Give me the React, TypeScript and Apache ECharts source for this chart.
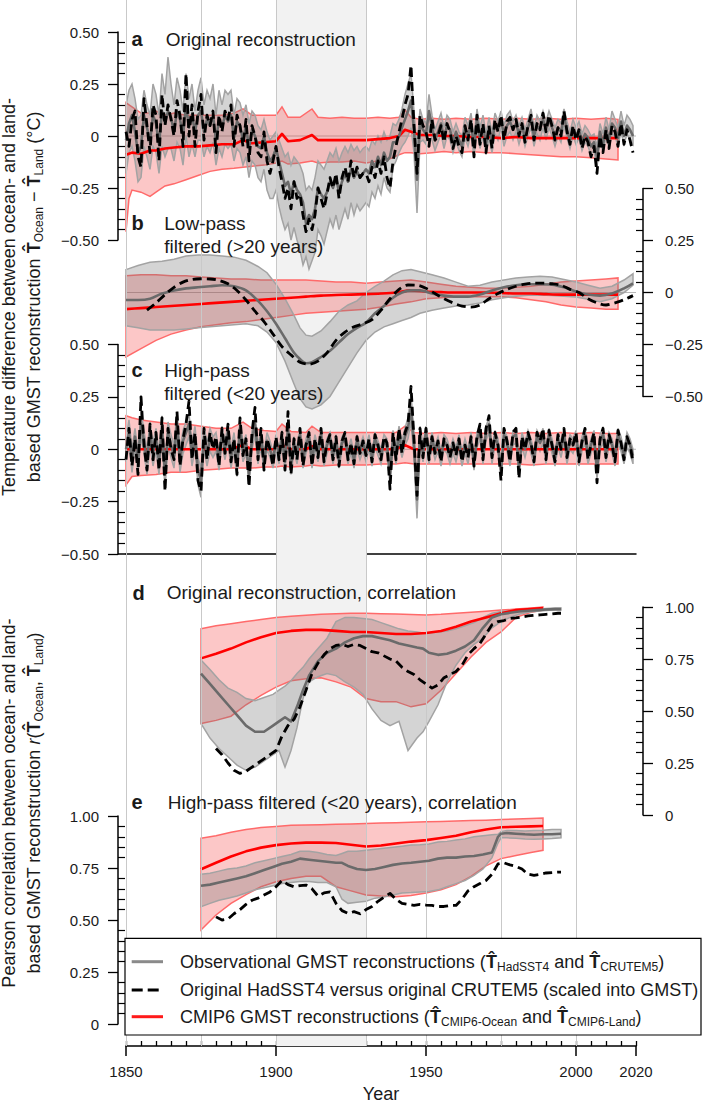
import React, { useEffect, useRef } from "react";
import * as echarts from "echarts";

const FONT = "'Liberation Sans', Arial, Helvetica, sans-serif";
const TXT = "#1a1a1a";

// ---------- axis / categories ----------
const YEARS: number[] = [];
for (let y = 1850; y <= 2019; y++) YEARS.push(y);
const GRID_YEARS = [1850, 1875, 1900, 1930, 1950, 1975, 2000];
const SHADE = [1900, 1930];
const X_MAJOR = [1850, 1900, 1950, 2000, 2020];

// ---------- panel a: original reconstruction ----------
const aBlack = [
  0.02, -0.05, 0.08, 0.12, -0.1, -0.15, 0.18, 0.05, -0.08, 0.15,
  0.1, -0.12, 0.2, 0.05, 0.15, 0.08, 0.0, 0.17, 0.1, -0.05,
  0.3, 0.0, 0.15, -0.05, 0.12, 0.2, -0.02, 0.1, 0.05, 0.12,
  -0.08, 0.1, 0.02, 0.12, 0.08, 0.15, -0.05, 0.1, 0.05, -0.05,
  0.08, -0.12, 0.05, 0.0, -0.08, -0.1, 0.02, -0.12, -0.18, -0.12,
  -0.05, -0.15, -0.22, -0.3, -0.25, -0.35, -0.22, -0.3, -0.28, -0.38,
  -0.46, -0.4, -0.45, -0.38, -0.25, -0.3, -0.35, -0.28, -0.2, -0.25,
  -0.18, -0.3, -0.2, -0.15, -0.22, -0.12, -0.2, -0.15, -0.2, -0.18,
  -0.18, -0.22, -0.15, -0.2, -0.12, -0.18, -0.1, -0.2, -0.25, -0.12,
  -0.05, 0.02, 0.08, 0.15, 0.2, 0.34, 0.05, -0.18, 0.1, 0.05,
  0.02, -0.05, 0.08, -0.02, 0.0, 0.05, -0.03, 0.06, 0.02, -0.06,
  0.0, -0.05, -0.08, 0.05, -0.02, 0.08, -0.1, 0.1, -0.04, 0.06,
  -0.08, 0.05, -0.06, 0.08, 0.02, 0.1, -0.02, 0.07, 0.09, 0.03,
  0.08, 0.0, 0.06, -0.03, 0.05, 0.1, -0.02, 0.06, 0.03, 0.11,
  0.02, 0.1, 0.05, -0.02, 0.04, 0.0, 0.12, 0.02, -0.04, 0.05,
  -0.02, 0.03, -0.06, 0.0, -0.03, -0.1, -0.05, -0.18, 0.0, -0.08,
  0.03, -0.06, 0.05, 0.02, -0.05, 0.06, -0.04, 0.03, -0.02, -0.08,
];
const aGray = [
  -0.02, 0.06, 0.1, 0.02, -0.08, -0.05, 0.1, 0.04, -0.03, 0.1,
  0.06, -0.04, 0.12, 0.06, 0.12, 0.09, 0.02, 0.12, 0.08, 0.0,
  0.15, 0.04, 0.1, 0.02, 0.1, 0.12, 0.02, 0.08, 0.05, 0.1,
  -0.02, 0.08, 0.04, 0.1, 0.07, 0.1, -0.01, 0.07, 0.05, -0.02,
  0.05, -0.06, 0.03, 0.0, -0.05, -0.06, 0.0, -0.08, -0.12, -0.1,
  -0.06, -0.12, -0.18, -0.24, -0.22, -0.28, -0.22, -0.26, -0.28, -0.32,
  -0.42, -0.38, -0.4, -0.35, -0.25, -0.28, -0.3, -0.27, -0.22, -0.25,
  -0.2, -0.27, -0.22, -0.18, -0.22, -0.16, -0.2, -0.17, -0.2, -0.18,
  -0.16, -0.18, -0.12, -0.15, -0.1, -0.14, -0.08, -0.12, -0.1, -0.03,
  -0.03, 0.0, 0.04, 0.08, 0.12, 0.17, 0.03, -0.21, 0.06, 0.03,
  0.01, 0.12, 0.04, -0.02, 0.02, 0.06, -0.01, 0.05, 0.03, -0.03,
  0.02, -0.02, -0.05, 0.04, 0.0, 0.06, -0.05, 0.08, -0.01, 0.05,
  -0.04, 0.04, -0.03, 0.06, 0.03, 0.08, 0.0, 0.05, 0.07, 0.03,
  0.06, 0.01, 0.05, -0.01, 0.04, 0.08, 0.0, 0.05, 0.03, 0.08,
  0.03, 0.08, 0.04, 0.0, 0.04, 0.02, 0.09, 0.03, -0.02, 0.04,
  0.0, 0.03, -0.03, 0.01, -0.01, -0.05, -0.03, -0.1, 0.02, -0.04,
  0.04, -0.02, 0.06, 0.04, -0.01, 0.07, 0.0, 0.05, 0.03, 0.0,
];
const aGrayHi = [
  0.15, 0.22, 0.25, 0.18, 0.08, 0.1, 0.22, 0.15, 0.1, 0.25,
  0.2, 0.1, 0.3, 0.2, 0.38, 0.25, 0.15, 0.28, 0.22, 0.12,
  0.3, 0.18, 0.25, 0.12, 0.22, 0.28, 0.15, 0.22, 0.18, 0.25,
  0.1, 0.22, 0.15, 0.22, 0.2, 0.22, 0.1, 0.18, 0.16, 0.1,
  0.15, 0.06, 0.12, 0.1, 0.05, 0.03, 0.08, 0.02, -0.02, 0.0,
  0.02, -0.02, -0.06, -0.1, -0.08, -0.14, -0.1, -0.12, -0.14, -0.18,
  -0.26, -0.24, -0.26, -0.2, -0.12, -0.14, -0.16, -0.12, -0.08, -0.1,
  -0.06, -0.12, -0.08, -0.05, -0.08, -0.04, -0.07, -0.05, -0.08, -0.06,
  -0.05, -0.07, -0.02, -0.04, 0.0, -0.03, 0.02, -0.02, 0.0, 0.06,
  0.05, 0.08, 0.13, 0.2, 0.25, 0.3, 0.12, -0.06, 0.13, 0.08,
  0.06, 0.2, 0.1, 0.03, 0.07, 0.11, 0.04, 0.1, 0.08, 0.02,
  0.06, 0.02, 0.0, 0.09, 0.05, 0.11, 0.0, 0.13, 0.04, 0.1,
  0.01, 0.09, 0.02, 0.11, 0.07, 0.12, 0.05, 0.1, 0.12, 0.07,
  0.1, 0.05, 0.09, 0.03, 0.08, 0.13, 0.04, 0.1, 0.07, 0.12,
  0.07, 0.12, 0.08, 0.04, 0.08, 0.06, 0.13, 0.07, 0.02, 0.08,
  0.04, 0.07, 0.01, 0.05, 0.03, 0.0, 0.01, -0.05, 0.06, 0.01,
  0.09, 0.03, 0.12, 0.08, 0.04, 0.12, 0.05, 0.1, 0.08, 0.05,
];
const aGrayLo = [
  -0.18, -0.08, -0.05, -0.12, -0.22, -0.2, -0.05, -0.1, -0.16, -0.05,
  -0.08, -0.18, -0.05, -0.1, -0.06, -0.06, -0.12, -0.03, -0.06, -0.14,
  0.0, -0.1, -0.04, -0.1, -0.02, -0.02, -0.1, -0.05, -0.08, -0.03,
  -0.14, -0.06, -0.1, -0.04, -0.06, -0.04, -0.12, -0.06, -0.08, -0.14,
  -0.1, -0.2, -0.12, -0.14, -0.2, -0.22, -0.16, -0.26, -0.3, -0.3,
  -0.26, -0.34, -0.4, -0.45, -0.42, -0.5, -0.44, -0.5, -0.55, -0.62,
  -0.58, -0.64, -0.6, -0.56, -0.45, -0.48, -0.52, -0.46, -0.4, -0.44,
  -0.38, -0.45, -0.4, -0.35, -0.4, -0.32, -0.38, -0.33, -0.36, -0.34,
  -0.32, -0.34, -0.27, -0.3, -0.24, -0.28, -0.2, -0.25, -0.27, -0.15,
  -0.12, -0.08, -0.05, -0.03, 0.0, 0.04, -0.08, -0.37, -0.03, -0.02,
  -0.04, 0.05, -0.02, -0.07, -0.03, 0.01, -0.06, 0.0, -0.02, -0.08,
  -0.03, -0.07, -0.1, -0.01, -0.05, 0.01, -0.1, 0.03, -0.06, 0.0,
  -0.09, -0.01, -0.08, 0.01, -0.02, 0.04, -0.05, 0.0, 0.02, -0.02,
  0.02, -0.04, 0.01, -0.05, 0.0, 0.04, -0.05, 0.01, -0.02, 0.04,
  -0.02, 0.04, 0.0, -0.05, 0.0, -0.03, 0.05, -0.01, -0.06, 0.0,
  -0.04, -0.01, -0.07, -0.03, -0.05, -0.09, -0.07, -0.15, -0.02, -0.08,
  0.0, -0.06, 0.01, 0.0, -0.05, 0.02, -0.04, 0.01, -0.02, -0.04,
];
const aRedYears = [1850, 1851, 1852, 1855, 1858, 1860, 1863, 1866, 1870, 1874, 1878, 1882, 1886, 1889, 1892, 1896, 1900, 1902, 1904, 1908, 1912, 1914, 1918, 1922, 1926, 1930, 1934, 1938, 1941, 1943, 1945, 1948, 1952, 1956, 1960, 1965, 1970, 1975, 1980, 1985, 1990, 1995, 2000, 2005, 2010, 2014];
const aRedHi = [0.16, 0.15, 0.14, 0.11, 0.11, 0.12, 0.1, 0.11, 0.1, 0.1, 0.1, 0.1, 0.11, 0.13, 0.1, 0.1, 0.1, 0.14, 0.09, 0.09, 0.13, 0.09, 0.085, 0.09, 0.085, 0.085, 0.09, 0.085, 0.09, 0.125, 0.09, 0.08, 0.085, 0.08, 0.085, 0.08, 0.085, 0.08, 0.085, 0.08, 0.085, 0.08, 0.085, 0.08, 0.085, 0.08];
const aRedLo = [-0.46, -0.3, -0.26, -0.27, -0.29, -0.27, -0.24, -0.23, -0.21, -0.19, -0.17, -0.16, -0.155, -0.15, -0.145, -0.14, -0.13, -0.12, -0.135, -0.13, -0.12, -0.13, -0.125, -0.125, -0.12, -0.13, -0.12, -0.11, -0.09, -0.08, -0.08, -0.085, -0.08, -0.075, -0.08, -0.075, -0.08, -0.08, -0.085, -0.09, -0.095, -0.1, -0.1, -0.105, -0.11, -0.115];
const aRedMid = [-0.09, -0.085, -0.08, -0.085, -0.07, -0.07, -0.06, -0.055, -0.05, -0.05, -0.045, -0.04, -0.04, -0.02, -0.035, -0.03, -0.025, 0.01, -0.025, -0.02, 0.005, -0.02, -0.02, -0.02, -0.02, -0.02, -0.015, -0.01, 0.0, 0.03, 0.02, 0.005, 0.005, 0.0, 0.0, -0.005, -0.005, -0.01, -0.005, -0.01, -0.01, -0.01, -0.01, -0.01, -0.01, -0.01];

// ---------- panel b: low-pass filtered ----------
const bRedYears = [1850, 1855, 1860, 1865, 1870, 1875, 1880, 1885, 1890, 1895, 1900, 1905, 1910, 1915, 1920, 1925, 1930, 1935, 1940, 1945, 1950, 1955, 1960, 1965, 1970, 1975, 1980, 1985, 1990, 1995, 2000, 2005, 2010, 2014];
const bRedHi = [0.08, 0.085, 0.085, 0.08, 0.08, 0.075, 0.07, 0.065, 0.065, 0.06, 0.06, 0.06, 0.06, 0.055, 0.05, 0.05, 0.045, 0.05, 0.055, 0.06, 0.05, 0.04, 0.03, 0.025, 0.02, 0.02, 0.025, 0.03, 0.04, 0.05, 0.055, 0.06, 0.065, 0.07];
const bRedLo = [-0.31, -0.27, -0.23, -0.2, -0.18, -0.165, -0.155, -0.145, -0.14, -0.13, -0.12, -0.11, -0.1, -0.095, -0.09, -0.085, -0.08, -0.07, -0.055, -0.045, -0.03, -0.025, -0.02, -0.02, -0.02, -0.02, -0.025, -0.035, -0.045, -0.06, -0.07, -0.075, -0.08, -0.08];
const bRedMid = [-0.08, -0.075, -0.07, -0.065, -0.06, -0.055, -0.05, -0.045, -0.04, -0.035, -0.03, -0.025, -0.02, -0.015, -0.012, -0.01, -0.008, -0.005, 0.0, 0.01, 0.005, 0.002, 0.0, 0.0, 0.0, -0.002, -0.005, -0.005, -0.008, -0.01, -0.01, -0.01, -0.01, -0.01];
const bGrayYears = [1850, 1854, 1858, 1862, 1866, 1870, 1874, 1878, 1882, 1886, 1890, 1894, 1897, 1900, 1903, 1906, 1908, 1910, 1912, 1915, 1918, 1921, 1924, 1927, 1930, 1933, 1936, 1939, 1942, 1945, 1948, 1952, 1956, 1960, 1964, 1968, 1972, 1976, 1980, 1984, 1988, 1992, 1996, 2000, 2004, 2008, 2012, 2016, 2019];
const bGrayHi = [0.11, 0.13, 0.145, 0.15, 0.16, 0.175, 0.18, 0.18, 0.175, 0.17, 0.155, 0.125, 0.095, 0.04, -0.03, -0.11, -0.17, -0.205, -0.21, -0.185, -0.14, -0.09, -0.06, -0.04, 0.0, 0.03, 0.055, 0.085, 0.105, 0.11, 0.1, 0.085, 0.07, 0.05, 0.03, 0.035, 0.05, 0.06, 0.07, 0.075, 0.078, 0.075, 0.062, 0.05, 0.035, 0.02, 0.03, 0.06, 0.09];
const bGrayLo = [-0.16, -0.17, -0.18, -0.18, -0.18, -0.175, -0.17, -0.165, -0.16, -0.155, -0.15, -0.16, -0.19, -0.24, -0.33, -0.44, -0.51, -0.55, -0.56, -0.54, -0.5, -0.43, -0.36, -0.29, -0.23, -0.19, -0.165, -0.15, -0.135, -0.12, -0.1, -0.085, -0.075, -0.065, -0.06, -0.05, -0.035, -0.025, -0.018, -0.013, -0.012, -0.014, -0.018, -0.022, -0.032, -0.044, -0.03, 0.0, 0.035];
const bGrayMid = [-0.036, -0.036, -0.03, -0.005, 0.01, 0.02, 0.025, 0.03, 0.035, 0.03, 0.01, -0.04, -0.09, -0.15, -0.22, -0.29, -0.32, -0.34, -0.335, -0.31, -0.28, -0.24, -0.2, -0.17, -0.145, -0.1, -0.065, -0.025, 0.0, 0.01, 0.01, -0.005, -0.015, -0.02, -0.02, -0.01, 0.01, 0.025, 0.035, 0.04, 0.04, 0.038, 0.025, 0.005, -0.01, -0.015, -0.005, 0.02, 0.044];
const bBlackYears = [1857, 1860, 1863, 1866, 1869, 1872, 1875, 1878, 1881, 1884, 1887, 1890, 1893, 1896, 1899, 1902, 1905, 1908, 1911, 1914, 1917, 1920, 1923, 1926, 1929, 1932, 1935, 1938, 1941, 1944, 1947, 1950, 1953, 1956, 1959, 1962, 1965, 1968, 1971, 1974, 1977, 1980, 1983, 1986, 1989, 1992, 1995, 1998, 2001, 2004, 2007, 2010, 2013, 2016, 2019];
const bBlack = [-0.085, -0.05, -0.01, 0.025, 0.05, 0.063, 0.066, 0.065, 0.058, 0.042, 0.01, -0.036, -0.09, -0.14, -0.2, -0.26, -0.3, -0.335, -0.345, -0.33, -0.29, -0.23, -0.19, -0.165, -0.15, -0.13, -0.085, -0.03, 0.015, 0.036, 0.035, 0.02, -0.005, -0.03, -0.05, -0.065, -0.07, -0.06, -0.03, -0.005, 0.015, 0.03, 0.04, 0.045, 0.045, 0.042, 0.035, 0.015, 0.0, -0.03, -0.05, -0.06, -0.05, -0.035, -0.015];

// ---------- panel c: high-pass filtered ----------
const cBlack = [
  -0.05, 0.1, -0.08, 0.05, -0.12, 0.25, 0.02, -0.1, 0.12, -0.05,
  0.08, -0.1, 0.15, -0.2, 0.1, 0.0, -0.05, 0.18, -0.08, 0.05,
  0.12, 0.23, -0.05, 0.08, -0.15, -0.2, 0.1, -0.05, 0.08, 0.0,
  0.06, -0.08, 0.1, -0.02, 0.12, -0.06, 0.05, -0.12, 0.15, -0.03,
  0.05, -0.18, 0.08, 0.2, -0.05, 0.1, -0.1, 0.05, 0.0, -0.08,
  0.06, -0.05, 0.08, -0.1, 0.18, -0.12, 0.05, -0.05, 0.1, -0.08,
  0.02, 0.08, -0.08, 0.05, -0.04, 0.1, -0.06, 0.03, 0.07, -0.05,
  0.06, -0.08, 0.04, 0.08, -0.05, 0.03, -0.07, 0.06, -0.02, 0.04,
  -0.03, 0.05, -0.06, 0.07, 0.02, -0.05, 0.06, 0.03, -0.19, 0.08,
  -0.05, 0.1, -0.02, 0.08, 0.12, 0.3, 0.05, -0.22, 0.1, -0.04,
  0.1, -0.05, 0.06, -0.02, 0.04, -0.06, 0.05, 0.02, -0.04, 0.03,
  -0.03, 0.05, -0.06, 0.02, -0.04, 0.06, -0.08, 0.06, 0.12, -0.05,
  0.1, 0.16, -0.04, 0.08, 0.02, -0.15, 0.1, 0.04, -0.06, 0.08,
  0.1, -0.14, 0.06, 0.0, 0.08, 0.03, -0.06, 0.08, 0.04, 0.1,
  -0.05, 0.09, 0.02, -0.06, 0.07, 0.0, 0.1, -0.04, 0.05, 0.02,
  0.08, -0.06, 0.04, 0.1, -0.05, 0.02, 0.08, -0.16, 0.05, 0.1,
  -0.04, 0.07, 0.02, -0.06, 0.09, 0.03, -0.05, 0.06, 0.02, -0.06,
];
const cGray = [
  0.0, 0.08, -0.05, 0.06, -0.06, 0.12, 0.04, -0.06, 0.08, -0.02,
  0.05, -0.06, 0.1, -0.12, 0.08, 0.02, -0.03, 0.12, -0.05, 0.04,
  0.08, 0.12, -0.02, 0.06, -0.1, -0.15, 0.06, -0.02, 0.05, 0.02,
  0.04, -0.05, 0.07, 0.0, 0.08, -0.04, 0.04, -0.08, 0.1, -0.01,
  0.03, -0.12, 0.05, 0.12, -0.02, 0.06, -0.06, 0.04, 0.0, -0.05,
  0.04, -0.03, 0.06, -0.06, 0.1, -0.08, 0.03, -0.03, 0.07, -0.05,
  0.02, 0.06, -0.05, 0.04, -0.02, 0.07, -0.04, 0.02, 0.05, -0.03,
  0.04, -0.05, 0.03, 0.05, -0.03, 0.02, -0.05, 0.04, -0.01, 0.03,
  -0.02, 0.04, -0.04, 0.05, 0.01, -0.03, 0.04, 0.02, -0.12, 0.05,
  -0.03, 0.07, 0.0, 0.06, 0.1, 0.2, 0.02, -0.24, 0.07, -0.02,
  0.08, -0.03, 0.05, -0.01, 0.03, -0.04, 0.04, 0.02, -0.03, 0.02,
  -0.02, 0.04, -0.04, 0.02, -0.03, 0.05, -0.06, 0.05, 0.09, -0.03,
  0.08, 0.12, -0.03, 0.06, 0.02, -0.1, 0.07, 0.03, -0.04, 0.06,
  0.07, -0.09, 0.05, 0.0, 0.06, 0.02, -0.04, 0.06, 0.03, 0.07,
  -0.03, 0.07, 0.02, -0.04, 0.05, 0.0, 0.07, -0.03, 0.04, 0.02,
  0.06, -0.04, 0.03, 0.07, -0.03, 0.02, 0.06, -0.1, 0.04, 0.07,
  -0.02, 0.05, 0.02, -0.04, 0.07, 0.03, -0.03, 0.05, 0.02, -0.03,
];
const cGrayHi = [
  0.05, 0.14, 0.0, 0.1, -0.01, 0.18, 0.09, -0.01, 0.13, 0.03,
  0.1, -0.01, 0.16, -0.06, 0.13, 0.07, 0.02, 0.18, 0.0, 0.09,
  0.13, 0.17, 0.03, 0.11, -0.04, -0.09, 0.11, 0.03, 0.1, 0.06,
  0.08, -0.01, 0.11, 0.04, 0.12, 0.0, 0.08, -0.04, 0.14, 0.03,
  0.07, -0.08, 0.09, 0.16, 0.02, 0.1, -0.02, 0.08, 0.04, -0.01,
  0.07, 0.0, 0.09, -0.03, 0.13, -0.05, 0.06, 0.0, 0.1, -0.02,
  0.05, 0.09, -0.02, 0.07, 0.01, 0.1, -0.01, 0.05, 0.08, 0.0,
  0.07, -0.02, 0.06, 0.08, 0.0, 0.05, -0.02, 0.07, 0.02, 0.06,
  0.01, 0.07, -0.01, 0.08, 0.04, 0.0, 0.07, 0.05, -0.08, 0.09,
  0.01, 0.11, 0.04, 0.1, 0.15, 0.26, 0.07, -0.16, 0.11, 0.02,
  0.11, 0.0, 0.08, 0.02, 0.06, -0.01, 0.07, 0.05, 0.0, 0.05,
  0.01, 0.07, -0.01, 0.05, 0.0, 0.08, -0.03, 0.08, 0.12, 0.0,
  0.11, 0.15, 0.0, 0.09, 0.05, -0.07, 0.1, 0.06, -0.01, 0.09,
  0.1, -0.06, 0.08, 0.03, 0.09, 0.05, -0.01, 0.09, 0.06, 0.1,
  0.0, 0.1, 0.05, -0.01, 0.08, 0.03, 0.1, 0.0, 0.07, 0.05,
  0.09, -0.01, 0.06, 0.1, 0.0, 0.05, 0.09, -0.07, 0.07, 0.1,
  0.01, 0.08, 0.05, -0.01, 0.1, 0.06, 0.0, 0.08, 0.05, 0.0,
];
const cGrayLo = [
  -0.06, 0.02, -0.11, 0.0, -0.12, 0.06, -0.02, -0.12, 0.02, -0.08,
  -0.01, -0.12, 0.04, -0.19, 0.02, -0.04, -0.09, 0.06, -0.11, -0.02,
  0.02, 0.06, -0.08, 0.0, -0.17, -0.23, 0.0, -0.08, -0.01, -0.04,
  -0.01, -0.1, 0.02, -0.05, 0.03, -0.09, -0.01, -0.13, 0.05, -0.06,
  -0.02, -0.17, 0.0, 0.07, -0.07, 0.01, -0.1, 0.0, -0.04, -0.09,
  0.01, -0.07, 0.02, -0.1, 0.06, -0.12, -0.01, -0.07, 0.03, -0.09,
  -0.02, 0.02, -0.09, 0.0, -0.06, 0.03, -0.08, -0.02, 0.01, -0.07,
  0.0, -0.09, -0.01, 0.01, -0.07, -0.02, -0.09, 0.0, -0.05, -0.01,
  -0.06, 0.0, -0.08, 0.01, -0.03, -0.07, 0.0, -0.02, -0.17, 0.01,
  -0.07, 0.03, -0.04, 0.02, 0.05, 0.13, -0.04, -0.33, 0.02, -0.06,
  0.04, -0.07, 0.01, -0.05, -0.01, -0.08, 0.0, -0.02, -0.07, -0.02,
  -0.06, 0.0, -0.08, -0.02, -0.07, 0.01, -0.1, 0.01, 0.05, -0.07,
  0.04, 0.08, -0.07, 0.02, -0.02, -0.14, 0.03, -0.01, -0.08, 0.02,
  0.03, -0.13, 0.01, -0.04, 0.02, -0.02, -0.08, 0.02, -0.01, 0.03,
  -0.07, 0.03, -0.02, -0.08, 0.01, -0.04, 0.03, -0.07, 0.0, -0.02,
  0.02, -0.08, -0.01, 0.03, -0.07, -0.02, 0.02, -0.14, 0.0, 0.03,
  -0.06, 0.01, -0.02, -0.08, 0.03, -0.01, -0.07, 0.01, -0.02, -0.07,
];
const cRedYears = [1850, 1852, 1855, 1860, 1865, 1870, 1875, 1880, 1885, 1889, 1892, 1896, 1900, 1902, 1905, 1910, 1912, 1915, 1920, 1925, 1930, 1935, 1940, 1943, 1946, 1950, 1955, 1960, 1965, 1970, 1975, 1980, 1985, 1990, 1995, 2000, 2005, 2010, 2014];
const cRedHi = [0.16, 0.15, 0.14, 0.13, 0.12, 0.12, 0.11, 0.1, 0.1, 0.13, 0.1, 0.09, 0.085, 0.12, 0.085, 0.08, 0.11, 0.08, 0.08, 0.08, 0.08, 0.08, 0.08, 0.11, 0.08, 0.075, 0.08, 0.075, 0.08, 0.075, 0.08, 0.075, 0.08, 0.075, 0.08, 0.075, 0.08, 0.075, 0.075];
const cRedLo = [-0.17, -0.13, -0.125, -0.12, -0.11, -0.11, -0.1, -0.095, -0.09, -0.09, -0.09, -0.085, -0.085, -0.08, -0.085, -0.08, -0.075, -0.08, -0.075, -0.075, -0.075, -0.07, -0.07, -0.065, -0.07, -0.07, -0.07, -0.07, -0.07, -0.07, -0.07, -0.07, -0.075, -0.07, -0.07, -0.07, -0.07, -0.07, -0.07];
const cRedMid = [0, 0, 0, 0, 0, 0, 0, 0, 0, 0.02, 0, 0, 0, 0.02, 0, 0, 0.015, 0, 0, 0, 0, 0, 0, 0.02, 0, 0, 0, 0, 0, 0, 0, 0, 0, 0, 0, 0, 0, 0, 0];

// ---------- panel d: original reconstruction, correlation ----------
const deRedYears = [1875, 1880, 1885, 1890, 1895, 1900, 1905, 1910, 1915, 1920, 1925, 1930, 1935, 1940, 1945, 1950, 1955, 1960, 1965, 1970, 1975, 1980, 1985, 1989];
const dRedHi = [0.895, 0.91, 0.92, 0.93, 0.94, 0.95, 0.955, 0.96, 0.965, 0.967, 0.97, 0.97, 0.968, 0.966, 0.964, 0.962, 0.965, 0.97, 0.975, 0.98, 0.985, 0.99, 0.995, 1.0];
const dRedLo = [0.44, 0.455, 0.475, 0.53, 0.575, 0.615, 0.645, 0.655, 0.66, 0.64, 0.615, 0.56, 0.545, 0.545, 0.52, 0.535, 0.6, 0.68, 0.76, 0.83, 0.88, 0.95, 0.975, 0.985];
const dRedMid = [0.753, 0.775, 0.8, 0.83, 0.855, 0.875, 0.885, 0.89, 0.89, 0.885, 0.88, 0.88, 0.875, 0.87, 0.87, 0.875, 0.885, 0.905, 0.93, 0.95, 0.97, 0.985, 0.99, 0.995];
const dGrayYears = [1875, 1878, 1881, 1884, 1887, 1890, 1893, 1896, 1899, 1901, 1903, 1905, 1907, 1909, 1911, 1914, 1917, 1920, 1923, 1926, 1929, 1932, 1935, 1938, 1941, 1944, 1947, 1949, 1951, 1954, 1957, 1960, 1963, 1966, 1969, 1972, 1975, 1978, 1981, 1984, 1987, 1990, 1993, 1995];
const dGrayHi = [0.745, 0.7, 0.65, 0.61, 0.59, 0.56, 0.55, 0.565, 0.58, 0.6, 0.62, 0.645, 0.68, 0.71, 0.75, 0.8, 0.85, 0.93, 0.95, 0.95, 0.945, 0.94, 0.925, 0.91, 0.895, 0.885, 0.88, 0.875, 0.875, 0.88, 0.885, 0.895, 0.91, 0.925, 0.95, 0.97, 0.978, 0.982, 0.985, 0.988, 0.99, 0.993, 0.995, 0.995];
const dGrayMid = [0.68, 0.63, 0.58, 0.53, 0.48, 0.43, 0.4, 0.4, 0.43, 0.45, 0.47, 0.45, 0.52, 0.6, 0.67, 0.74, 0.78, 0.8, 0.83, 0.85, 0.86, 0.86, 0.85, 0.84, 0.825, 0.815, 0.805, 0.8, 0.78, 0.77, 0.775, 0.79, 0.81, 0.84, 0.9, 0.95, 0.965, 0.972, 0.978, 0.982, 0.985, 0.988, 0.99, 0.99];
const dGrayLo = [0.44, 0.37, 0.32, 0.28, 0.24, 0.215, 0.23, 0.26, 0.29, 0.31, 0.23, 0.31, 0.42, 0.56, 0.64, 0.665, 0.68, 0.67, 0.64, 0.615, 0.58, 0.51, 0.455, 0.43, 0.45, 0.31, 0.37, 0.4, 0.45, 0.53, 0.64, 0.72, 0.78, 0.82, 0.85, 0.9, 0.93, 0.95, 0.965, 0.975, 0.98, 0.983, 0.985, 0.985];
const deBlackYears = [1880, 1882, 1884, 1886, 1888, 1890, 1892, 1894, 1896, 1898, 1900, 1902, 1904, 1906, 1908, 1910, 1912, 1914, 1916, 1918, 1920, 1922, 1924, 1926, 1928, 1930, 1932, 1934, 1936, 1938, 1940, 1942, 1944, 1946, 1948, 1950, 1952, 1954, 1956, 1958, 1960, 1962, 1964, 1966, 1968, 1970, 1972, 1974, 1976, 1978, 1980, 1982, 1984, 1986, 1988, 1990, 1992, 1994, 1995];
const dBlack = [0.32, 0.29, 0.25, 0.215, 0.2, 0.21, 0.23, 0.25, 0.27, 0.29, 0.31, 0.38, 0.43, 0.46, 0.52, 0.6, 0.68, 0.73, 0.77, 0.8, 0.815, 0.82, 0.81, 0.82, 0.815, 0.8, 0.785, 0.78, 0.765, 0.75, 0.74, 0.71, 0.69, 0.675, 0.65, 0.63, 0.61, 0.625, 0.66, 0.675, 0.69, 0.72, 0.77, 0.8, 0.825, 0.87, 0.915, 0.93, 0.935, 0.945, 0.948, 0.952, 0.957, 0.96, 0.962, 0.965, 0.967, 0.97, 0.97];

// ---------- panel e: high-pass filtered, correlation ----------
const eRedHi = [0.893, 0.905, 0.922, 0.935, 0.945, 0.95, 0.955, 0.957, 0.958, 0.96, 0.962, 0.964, 0.966, 0.968, 0.97, 0.972, 0.974, 0.976, 0.978, 0.98, 0.983, 0.985, 0.988, 0.99];
const eRedMid = [0.744, 0.775, 0.805, 0.83, 0.848, 0.86, 0.868, 0.872, 0.872, 0.87, 0.862, 0.853, 0.858, 0.868, 0.877, 0.884, 0.894, 0.905, 0.922, 0.935, 0.946, 0.948, 0.95, 0.952];
const eRedLo = [0.452, 0.524, 0.58, 0.622, 0.66, 0.684, 0.7, 0.71, 0.71, 0.66, 0.64, 0.62, 0.615, 0.612, 0.618, 0.63, 0.645, 0.67, 0.71, 0.76, 0.795, 0.81, 0.825, 0.835];
const eGrayYears = [1875, 1878, 1881, 1884, 1887, 1890, 1893, 1896, 1899, 1902, 1905, 1908, 1911, 1914, 1917, 1920, 1922, 1924, 1927, 1930, 1933, 1936, 1939, 1942, 1945, 1948, 1951, 1954, 1957, 1960, 1963, 1966, 1969, 1972, 1974, 1975, 1977, 1980, 1983, 1986, 1989, 1992, 1995];
const eGrayHi = [0.72, 0.725, 0.735, 0.745, 0.75, 0.76, 0.775, 0.785, 0.795, 0.805, 0.815, 0.83, 0.83, 0.825, 0.815, 0.81, 0.82, 0.83, 0.83, 0.835, 0.84, 0.845, 0.85, 0.855, 0.86, 0.862, 0.865, 0.875, 0.878, 0.885, 0.89, 0.9, 0.905, 0.91, 0.912, 0.925, 0.93, 0.93, 0.928, 0.93, 0.932, 0.935, 0.935];
const eGrayMid = [0.665, 0.67, 0.68, 0.69, 0.7, 0.71, 0.725, 0.74, 0.755, 0.77, 0.78, 0.795, 0.79, 0.785, 0.78, 0.775, 0.775, 0.76, 0.745, 0.74, 0.745, 0.755, 0.765, 0.772, 0.775, 0.78, 0.785, 0.795, 0.8, 0.8, 0.805, 0.808, 0.815, 0.825, 0.9, 0.915, 0.918, 0.915, 0.912, 0.91, 0.912, 0.912, 0.915];
const eGrayLo = [0.564, 0.58, 0.595, 0.605, 0.615, 0.63, 0.645, 0.655, 0.665, 0.675, 0.68, 0.685, 0.685, 0.68, 0.68, 0.66, 0.6, 0.58, 0.585, 0.59, 0.605, 0.61, 0.62, 0.63, 0.632, 0.635, 0.637, 0.645, 0.66, 0.675, 0.69, 0.715, 0.745, 0.8, 0.87, 0.895, 0.895, 0.893, 0.89, 0.888, 0.89, 0.892, 0.895];
const eBlack = [0.515, 0.5, 0.505, 0.53, 0.55, 0.575, 0.595, 0.605, 0.62, 0.635, 0.66, 0.69, 0.67, 0.66, 0.665, 0.668, 0.65, 0.615, 0.63, 0.635, 0.58, 0.545, 0.532, 0.54, 0.53, 0.55, 0.565, 0.59, 0.61, 0.628, 0.6, 0.58, 0.575, 0.57, 0.575, 0.572, 0.57, 0.565, 0.565, 0.57, 0.57, 0.6, 0.64, 0.66, 0.675, 0.69, 0.72, 0.77, 0.775, 0.765, 0.758, 0.745, 0.72, 0.715, 0.72, 0.726, 0.728, 0.73, 0.73];

// ---------- styles ----------
const RED = "#ff0000";
const RED_EDGE = "#ff6a6a";
const RED_FILL = "rgba(240,0,0,0.22)";
const GRAY_MID = "#6a6a6a";
const GRAY_EDGE = "#a3a3a3";
const GRAY_FILL = "rgba(120,120,120,0.32)";
const DASH = [9, 5];

const pairs = (xs: number[], ys: number[]) => xs.map((x, i) => [x, ys[i]]);

function lineS(ax: number, xs: number[], ys: number[], color: string, width: number, z: number, dashed = false, smooth: any = false) {
  return {
    type: "line",
    xAxisIndex: ax,
    yAxisIndex: ax,
    data: pairs(xs, ys),
    symbol: "none",
    showSymbol: false,
    clip: false,
    silent: true,
    smooth,
    z,
    lineStyle: { color, width, type: dashed ? DASH : "solid", cap: "butt", join: "round" },
    emphasis: { disabled: true },
  };
}

function bandS(ax: number, xs: number[], lo: number[], hi: number[], fill: string, stroke: string, z: number) {
  return {
    type: "custom",
    xAxisIndex: ax,
    yAxisIndex: ax,
    data: xs.map((x, i) => [x, lo[i], hi[i]]),
    encode: { x: 0, y: [1, 2] },
    clip: false,
    silent: true,
    z,
    renderItem: (params: any, api: any) => {
      if (params.dataIndexInside !== 0) return null;
      const n = params.dataInsideLength;
      const top: number[][] = [];
      const bot: number[][] = [];
      for (let i = 0; i < n; i++) {
        const x = api.value(0, i);
        top.push(api.coord([x, api.value(2, i)]));
        bot.push(api.coord([x, api.value(1, i)]));
      }
      bot.reverse();
      return {
        type: "polygon",
        shape: { points: top.concat(bot) },
        style: { fill, stroke, lineWidth: 1.5 },
      };
    },
  };
}

const fmtTick = (v: number) => {
  if (Math.abs(v) < 1e-9) return "0";
  const s = Math.abs(v).toFixed(2);
  return v < 0 ? "\u2212" + s : s;
};

function yAx(gi: number, pos: "left" | "right", min: number, max: number) {
  return {
    type: "value",
    gridIndex: gi,
    position: pos,
    offset: pos === "left" ? 8 : 7,
    min,
    max,
    interval: 0.25,
    axisLine: { show: true, onZero: false, lineStyle: { color: "#000", width: 1.5 } },
    axisTick: { show: true, inside: false, length: 10, lineStyle: { color: "#000", width: 1.3 } },
    minorTick: { show: true, splitNumber: 5, length: -7, lineStyle: { color: "#000", width: 1.2 } },
    axisLabel: { show: true, fontSize: 15, fontFamily: FONT, color: TXT, margin: pos === "left" ? 19 : 22, formatter: fmtTick },
    splitLine: { show: false },
    minorSplitLine: { show: false },
  };
}

const hiddenX = (gi: number) => ({ type: "value", gridIndex: gi, min: 1850, max: 2020, show: false });

function panel(ax: number, p: any) {
  const out: any[] = [];
  if (p.zero) out.push(lineS(ax, [1850, 2020], [0, 0], "#b8b8b8", 1, 1));
  out.push(bandS(ax, p.rx, p.rlo, p.rhi, RED_FILL, RED_EDGE, 2));
  out.push(bandS(ax, p.gx, p.glo, p.ghi, GRAY_FILL, GRAY_EDGE, 3));
  out.push(lineS(ax, p.rx, p.rmid, RED, 2.6, 4, false, p.smooth));
  out.push(lineS(ax, p.gmx, p.gmid, GRAY_MID, 2.6, 5, false, p.smooth));
  out.push(lineS(ax, p.bx, p.black, "#000", 2.8, 6, true, p.smooth));
  return out;
}

const RICH = {
  b: { fontSize: 18, fontWeight: "bold", fontFamily: FONT, fill: TXT },
  s: { fontSize: 12, fontFamily: FONT, fill: TXT, padding: [10, 0, 0, 0] },
  i: { fontSize: 18, fontStyle: "italic", fontFamily: FONT, fill: TXT },
};

function txt(x: number, y: number, text: string, size: number, opts: any = {}) {
  return {
    type: "text",
    x,
    y,
    rotation: opts.rotation || 0,
    z: 120,
    silent: true,
    style: {
      text,
      fontSize: size,
      fontFamily: FONT,
      fontWeight: opts.bold ? "bold" : "normal",
      fill: TXT,
      align: opts.align || "left",
      verticalAlign: "middle",
      textAlign: opts.align || "left",
      textVerticalAlign: "middle",
      rich: RICH,
    },
  };
}

function buildOption() {
  const series: any[] = [];
  // background: shading 1900–1930 and vertical grid lines
  series.push({
    type: "line",
    xAxisIndex: 5,
    yAxisIndex: 5,
    data: [[1850, 0]],
    symbol: "none",
    silent: true,
    z: -10,
    lineStyle: { width: 0, opacity: 0 },
    markArea: { silent: true, itemStyle: { color: "#f2f2f2" }, data: [[{ xAxis: SHADE[0] }, { xAxis: SHADE[1] }]] },
    markLine: {
      silent: true,
      symbol: ["none", "none"],
      label: { show: false },
      lineStyle: { color: "#c9c9c9", width: 1, type: "solid" },
      data: GRID_YEARS.map((v) => ({ xAxis: v })),
    },
  });

  series.push(...panel(0, { zero: true, rx: aRedYears, rlo: aRedLo, rhi: aRedHi, rmid: aRedMid, gx: YEARS, glo: aGrayLo, ghi: aGrayHi, gmx: YEARS, gmid: aGray, bx: YEARS, black: aBlack }));
  series.push(...panel(1, { zero: true, smooth: 0.3, rx: bRedYears, rlo: bRedLo, rhi: bRedHi, rmid: bRedMid, gx: bGrayYears, glo: bGrayLo, ghi: bGrayHi, gmx: bGrayYears, gmid: bGrayMid, bx: bBlackYears, black: bBlack }));
  series.push(...panel(2, { zero: true, rx: cRedYears, rlo: cRedLo, rhi: cRedHi, rmid: cRedMid, gx: YEARS, glo: cGrayLo, ghi: cGrayHi, gmx: YEARS, gmid: cGray, bx: YEARS, black: cBlack }));
  series.push(...panel(3, { rx: deRedYears, rlo: dRedLo, rhi: dRedHi, rmid: dRedMid, gx: dGrayYears, glo: dGrayLo, ghi: dGrayHi, gmx: dGrayYears, gmid: dGrayMid, bx: deBlackYears, black: dBlack }));
  series.push(...panel(4, { rx: deRedYears, rlo: eRedLo, rhi: eRedHi, rmid: eRedMid, gx: eGrayYears, glo: eGrayLo, ghi: eGrayHi, gmx: eGrayYears, gmid: eGrayMid, bx: deBlackYears, black: eBlack }));

  const g = (top: number, height: number) => ({ left: 126, width: 510, top, height, containLabel: false, outerBoundsMode: "none" });

  const legendRows = [961.7, 990, 1016.7];

  const graphic: any[] = [
    // axis titles
    txt(8.5, 297, "Temperature difference between ocean- and land-", 18, { rotation: Math.PI / 2, align: "center" }),
    txt(33.5, 297, "based GMST reconstruction {b|T\u0302}{s|Ocean} \u2212 {b|T\u0302}{s|Land} (\u00B0C)", 18, { rotation: Math.PI / 2, align: "center" }),
    txt(8.5, 803, "Pearson correlation between ocean- and land-", 18, { rotation: Math.PI / 2, align: "center" }),
    txt(33.5, 803, "based GMST reconstruction {i|r}({b|T\u0302}{s|Ocean}, {b|T\u0302}{s|Land})", 18, { rotation: Math.PI / 2, align: "center" }),
    txt(381, 1093.5, "Year", 18, { align: "center" }),
    // panel labels
    txt(131.5, 39.3, "a", 20, { bold: true }),
    txt(165.7, 39.3, "Original reconstruction", 19),
    txt(131.5, 223.3, "b", 20, { bold: true }),
    txt(164.3, 223.3, "Low-pass", 19),
    txt(164.3, 246.7, "filtered (>20 years)", 19),
    txt(131.5, 370, "c", 20, { bold: true }),
    txt(164.3, 370, "High-pass", 19),
    txt(164.3, 393.3, "filtered (<20 years)", 19),
    txt(132.5, 592.7, "d", 20, { bold: true }),
    txt(166.7, 592.7, "Original reconstruction, correlation", 19),
    txt(131.5, 802.3, "e", 20, { bold: true }),
    txt(167.7, 802.3, "High-pass filtered (<20 years), correlation", 19),
    // x-axis line extension of panel c
    { type: "line", z: 50, silent: true, shape: { x1: 118, y1: 554, x2: 126, y2: 554 }, style: { stroke: "#000", lineWidth: 1.5 } },
    // legend
    { type: "rect", z: 100, silent: true, shape: { x: 125, y: 938.3, width: 576, height: 96.7 }, style: { fill: "#fff", stroke: "#000", lineWidth: 1.2 } },
    { type: "line", z: 110, silent: true, shape: { x1: 131.7, y1: legendRows[0], x2: 163, y2: legendRows[0] }, style: { stroke: "#8a8a8a", lineWidth: 3 } },
    { type: "line", z: 110, silent: true, shape: { x1: 131.7, y1: legendRows[1], x2: 163, y2: legendRows[1] }, style: { stroke: "#000", lineWidth: 3, lineDash: [11, 5] } },
    { type: "line", z: 110, silent: true, shape: { x1: 131.7, y1: legendRows[2], x2: 163, y2: legendRows[2] }, style: { stroke: "#ff1a1a", lineWidth: 3 } },
    txt(180, legendRows[0], "Observational GMST reconstructions ({b|T\u0302}{s|HadSST4} and {b|T\u0302}{s|CRUTEM5})", 18),
    txt(180, legendRows[1], "Original HadSST4 versus original CRUTEM5 (scaled into GMST)", 18),
    txt(180, legendRows[2], "CMIP6 GMST reconstructions ({b|T\u0302}{s|CMIP6-Ocean} and {b|T\u0302}{s|CMIP6-Land})", 18),
  ];

  return {
    animation: false,
    backgroundColor: "#ffffff",
    textStyle: { fontFamily: FONT },
    grid: [g(32, 208), g(188.5, 208), g(344.5, 209.5), g(607, 208), g(816, 208), g(0, 1046)],
    xAxis: [
      hiddenX(0),
      hiddenX(1),
      {
        type: "value", gridIndex: 2, min: 1850, max: 2020, position: "bottom",
        axisLine: { show: true, onZero: false, lineStyle: { color: "#000", width: 1.5 } },
        axisTick: { show: false }, axisLabel: { show: false }, splitLine: { show: false },
      },
      hiddenX(3),
      {
        type: "value", gridIndex: 4, min: 1850, max: 2020, interval: 5, position: "bottom", offset: 22,
        axisLine: { show: true, onZero: false, lineStyle: { color: "#000", width: 1.5 } },
        axisTick: { show: true, inside: true, length: 5, lineStyle: { color: "#000", width: 1.3 } },
        axisLabel: { show: false }, splitLine: { show: false },
      },
      hiddenX(5),
      {
        type: "value", gridIndex: 4, min: 1850, max: 2020, interval: 50, position: "bottom", offset: 22,
        axisLine: { show: false, onZero: false },
        axisTick: { show: true, inside: false, length: 10, customValues: X_MAJOR, lineStyle: { color: "#000", width: 1.5 } },
        axisLabel: { show: true, customValues: X_MAJOR, fontSize: 15, fontFamily: FONT, color: TXT, margin: 18, formatter: (v: number) => String(v) },
        splitLine: { show: false },
      },
    ],
    yAxis: [
      yAx(0, "left", -0.5, 0.5),
      yAx(1, "right", -0.5, 0.5),
      yAx(2, "left", -0.5, 0.5),
      yAx(3, "right", 0, 1),
      yAx(4, "left", 0, 1),
      { type: "value", gridIndex: 5, min: 0, max: 1, show: false },
    ],
    series,
    graphic,
  };
}

export default function App() {
  const ref = useRef<HTMLDivElement>(null);
  useEffect(() => {
    if (!ref.current) return;
    const chart = echarts.init(ref.current, null, { renderer: "svg", width: 703, height: 1105 });
    chart.setOption(buildOption() as any);
    return () => chart.dispose();
  }, []);
  return (
    <div
      ref={ref}
      style={{ position: "absolute", left: 0, top: 0, width: 703, height: 1105, background: "#fff" }}
    />
  );
}
